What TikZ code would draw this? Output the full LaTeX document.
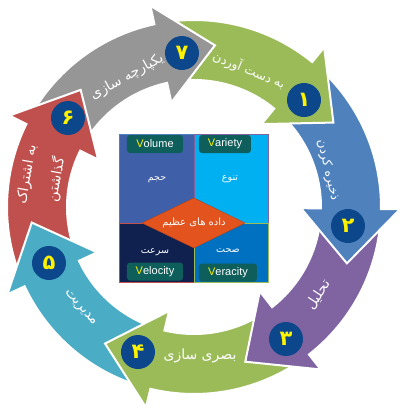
\documentclass[tikz,border=0pt]{standalone}
\usepackage{fontspec}
\setmainfont{Liberation Sans}
\newfontfamily\fa[Script=Arabic]{DejaVu Sans}
\TeXXeTstate=1
\definecolor{cgreen}{HTML}{9BBB59}
\definecolor{cblue}{HTML}{4F81BD}
\definecolor{cpurple}{HTML}{8064A2}
\definecolor{caqua}{HTML}{4BACC6}
\definecolor{cred}{HTML}{C0504D}
\definecolor{cgray}{HTML}{969696}
\definecolor{numblue}{HTML}{0C478C}
\definecolor{tagteal}{HTML}{0E5F5B}
\definecolor{qtl}{HTML}{3F5FA9}
\definecolor{qtr}{HTML}{00B0F0}
\definecolor{qbl}{HTML}{10214F}
\definecolor{qbr}{HTML}{0070C0}
\definecolor{dorange}{HTML}{E2531D}
\newcommand{\myarrow}[2]{%
  \pgfmathsetmacro{\angB}{#2}%
  \pgfmathsetmacro{\angS}{#2+49.43}%
  \pgfmathsetmacro{\angT}{#2-19.6}%
  \filldraw[arr=#1] (\angS:187pt) arc[start angle=\angS, end angle=\angB, radius=187pt]
    -- (\angB:206pt) -- (\angT:163pt) -- (\angB:107pt) -- (\angB:127pt)
    arc[start angle=\angB, end angle=\angS, radius=127pt] -- cycle;}
\tikzset{
  arr/.style={fill=#1, draw=white, line width=2pt, line join=miter},
  num/.style={circle, fill=numblue, minimum size=34pt, inner sep=0pt, text=yellow,
    font=\fa\bfseries\fontsize{21}{21}\selectfont},
  lab/.style={text=white, inner sep=0pt, align=center,
    font=\fa\fontsize{14}{30}\selectfont},
  labsm/.style={lab, font=\fa\fontsize{12.5}{30}\selectfont},
  tag/.style={fill=tagteal, rounded corners=3pt, text=white, inner sep=0pt,
    minimum height=18pt, font=\fontsize{11}{11}\selectfont},
  qlab/.style={text=white, inner sep=0pt, font=\fa\fontsize{9.5}{9.5}\selectfont},
}
\begin{document}
\begin{tikzpicture}[x=1pt,y=1pt]
\useasboundingbox (-194,-209) rectangle (213,207);
% arrows
\myarrow{cgreen}{50.8}
\myarrow{cgray}{-257.78}
\myarrow{cred}{-206.35}
\myarrow{caqua}{-154.92}
\myarrow{cgreen}{-103.49}
\myarrow{cpurple}{-52.06}
\myarrow{cblue}{-0.63}
\begin{scope}
  \clip (0,0) -- (58:260pt) -- (22:260pt) -- cycle;
  \myarrow{cgreen}{50.8}
\end{scope}
% numbers
\node[num] (n1) at (110,107) {۱};
\node[num] (n2) at (154,-19) {۲};
\node[num] (n3) at (92,-132) {۳};
\node[num] (n4) at (-56,-145) {۴};
\node[num] (n5) at (-145,-56) {۵};
\node[num] (n6) at (-126,89) {۶};
\node[num] (n7) at (-12,154) {۷};
% labels
\node[labsm, rotate=-22] (l1) at (55,137) {\beginR به دست آوردن\endR};
\node[labsm, rotate=-77] (l2) at (134,37) {\beginR ذخیره کردن\endR};
\node[lab, rotate=57] (l3) at (124,-88) {\beginR تحلیل\endR};
\node[lab] (l4) at (6,-149) {\beginR بصری سازی\endR};
\node[lab, rotate=-49] (l5) at (-114,-101) {\beginR مدیریت\endR};
\node[lab, rotate=80] (l6) at (-152,30) {\beginR به اشتراک\endR\\\beginR گذاشتن\endR};
\node[lab, rotate=29] (l7) at (-67,130) {\beginR یکپارچه سازی\endR};
% central box
\filldraw[fill=qtl, draw=cblue, line width=0.6pt] (-75,-16.5) rectangle (0,73);
\filldraw[fill=qtr, draw=cpurple, line width=0.6pt] (0,-16.5) rectangle (74,73);
\filldraw[fill=qbl, draw=cred, line width=0.6pt] (-75,-75) rectangle (0,-16.5);
\filldraw[fill=qbr, draw=cgreen, line width=0.6pt] (0,-75) rectangle (74,-16.5);
\filldraw[fill=dorange, draw=dorange!80!black, line width=0.4pt]
  (-52,-16) -- (0,9) -- (51,-16) -- (0,-41) -- cycle;
\node[text=white, inner sep=0pt, font=\fa\fontsize{10}{10}\selectfont] (big) at (0,-16) {\beginR داده های عظیم\endR};
\node[qlab] (q1) at (-37,27) {\beginR حجم\endR};
\node[qlab] (q2) at (36,28) {\beginR تنوع\endR};
\node[qlab] (q3) at (-39,-45) {\beginR سرعت\endR};
\node[qlab] (q4) at (34,-44) {\beginR صحت\endR};
\node[tag, minimum width=56pt] (t1) at (-39,63) {\textcolor{yellow}{V}olume};
\node[tag, minimum width=52pt] (t2) at (31,63) {\textcolor{yellow}{V}ariety};
\node[tag, minimum width=56pt] (t3) at (-39,-64.5) {\textcolor{yellow}{V}elocity};
\node[tag, minimum width=58pt] (t4) at (34,-65.5) {\textcolor{yellow}{V}eracity};
\end{tikzpicture}
\end{document}
